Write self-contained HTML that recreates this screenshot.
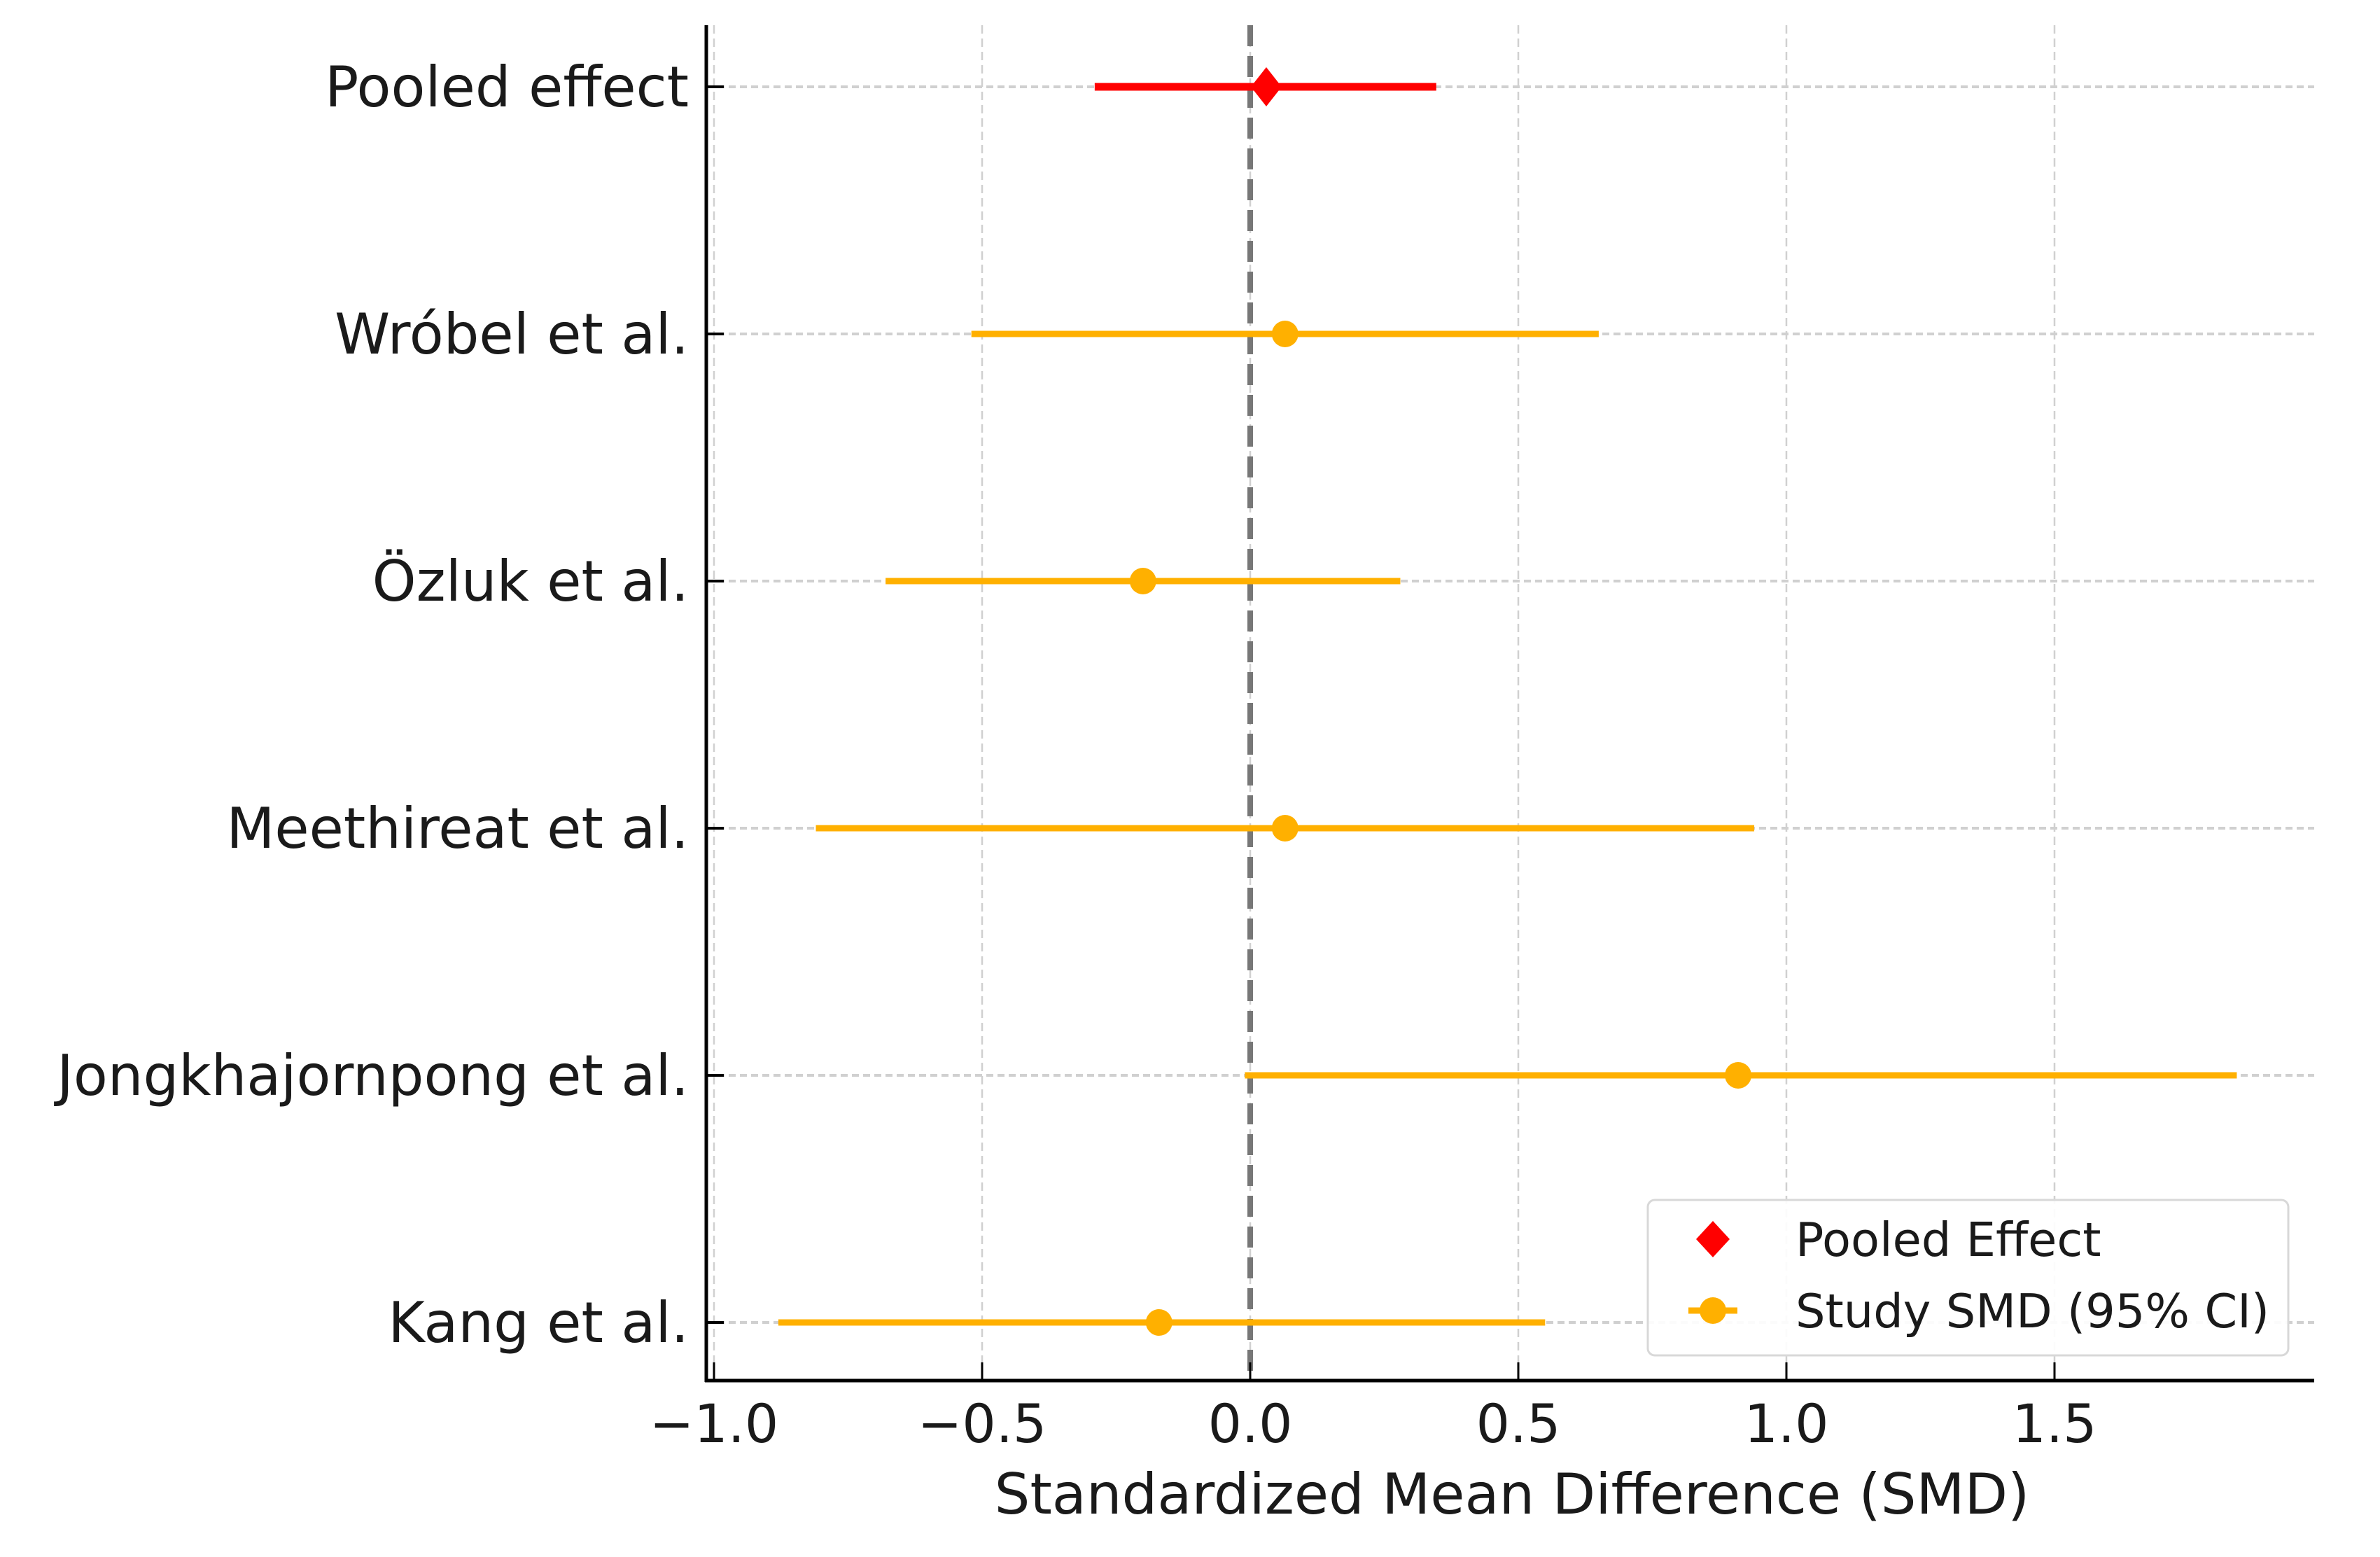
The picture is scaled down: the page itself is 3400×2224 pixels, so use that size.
<!DOCTYPE html>
<html><head><meta charset="utf-8"><style>
body{margin:0;background:#fff}
svg text{font-family:"DejaVu Sans","Liberation Sans",sans-serif;fill:#1a1a1a}
</style></head><body>
<svg id="chart" width="3400" height="2219" viewBox="0 0 3400 2219" xmlns="http://www.w3.org/2000/svg">
<g id="grid"></g>
<g id="marks"></g>
<g id="axes"></g>
</svg>
<script>
const studies = ["Pooled effect","Wróbel et al.","Özluk et al.","Meethireat et al.","Jongkhajornpong et al.","Kang et al."];
const smd = [0.03,0.065,-0.2,0.065,0.91,-0.17];
const ciLow = [-0.29,-0.52,-0.68,-0.81,-0.01,-0.88];
const ciHigh = [0.347,0.65,0.28,0.94,1.84,0.55];
const xTicks = [-1.0,-0.5,0.0,0.5,1.0,1.5];
const xTickLabels = ["\u22121.0","\u22120.5","0.0","0.5","1.0","1.5"];

const NS="http://www.w3.org/2000/svg";
const L=1009,R=3306,T=36,B=1972;
const x0=1786,pxPer=766;
function xs(v){return x0+v*pxPer;}
function ys(i){return 124+i*353;}
function mk(tag,attrs,parent){const e=document.createElementNS(NS,tag);for(const k in attrs)e.setAttribute(k,attrs[k]);parent.appendChild(e);return e;}
const grid=document.getElementById('grid'),marks=document.getElementById('marks'),axes=document.getElementById('axes');

xTicks.forEach((t,i)=>{
  const g=mk('line',{x1:xs(t),x2:xs(t),y1:T,y2:B,stroke:'#d0d0d0','stroke-width':2.5,'stroke-dasharray':'12 7'},grid);
  
  
  const tk=mk('line',{x1:xs(t),x2:xs(t),y1:B,y2:B-26,stroke:'#000','stroke-width':3},axes);
  
  
  const tl=mk('text',{x:xs(t),y:2060,'text-anchor':'middle','font-size':76},axes);
  tl.textContent=xTickLabels[i];
  
  
});
studies.forEach((s,i)=>{
  const g=mk('line',{x1:L,x2:R,y1:ys(i),y2:ys(i),stroke:'#d0d0d0','stroke-width':4,'stroke-dasharray':'10 6'},grid);
  
  
  const tk=mk('line',{x1:L,x2:L+25,y1:ys(i),y2:ys(i),stroke:'#000','stroke-width':4},axes);
  
  
  const tl=mk('text',{x:984,y:ys(i)+28,'text-anchor':'end','font-size':80},axes);
  tl.textContent=s;
  
  
});
const z=mk('line',{x1:xs(0),x2:xs(0),y1:T,y2:B,stroke:'#777','stroke-width':8,'stroke-dasharray':'30 14'},marks);



studies.forEach((s,i)=>{
  const col=i===0?'#ff0000':'#ffb000';
  const ln=mk('line',{x1:xs(ciLow[i]),x2:xs(ciHigh[i]),y1:ys(i),y2:ys(i),stroke:col,'stroke-width':i===0?11:9},marks);
  
  
  let p;
  if(i===0){
    const cx=xs(smd[i]),cy=ys(i);
    p=mk('polygon',{points:`${cx},${cy-28} ${cx+22},${cy} ${cx},${cy+28} ${cx-22},${cy}`,fill:col},marks);
    
  } else {
    p=mk('circle',{cx:xs(smd[i]),cy:ys(i),r:19,fill:col},marks);
    
  }
  
});

const sl=mk('line',{x1:L,x2:L,y1:T,y2:B+2,stroke:'#000','stroke-width':5},axes);


const sb=mk('line',{x1:L-2,x2:R,y1:B,y2:B,stroke:'#000','stroke-width':5},axes);


const xl=mk('text',{x:2160,y:2162,'text-anchor':'middle','font-size':80},axes);
xl.textContent='Standardized Mean Difference (SMD)';



const lg=mk('g',{},axes);


mk('rect',{x:2354,y:1714,width:915,height:222,rx:10,fill:'#fff','fill-opacity':0.9,stroke:'#d8d8d8','stroke-width':3},lg);
const d=mk('polygon',{points:'2447,1744 2471,1770 2447,1796 2423,1770',fill:'#ff0000'},lg);


const t1=mk('text',{x:2565,y:1794,'font-size':67},lg);
t1.textContent='Pooled Effect';


mk('line',{x1:2412,x2:2482,y1:1872,y2:1872,stroke:'#ffb000','stroke-width':9},lg);
const c=mk('circle',{cx:2447,cy:1872,r:19,fill:'#ffb000'},lg);


const t2=mk('text',{x:2565,y:1896,'font-size':67},lg);
t2.textContent='Study SMD (95% CI)';


</script>
</body></html>
